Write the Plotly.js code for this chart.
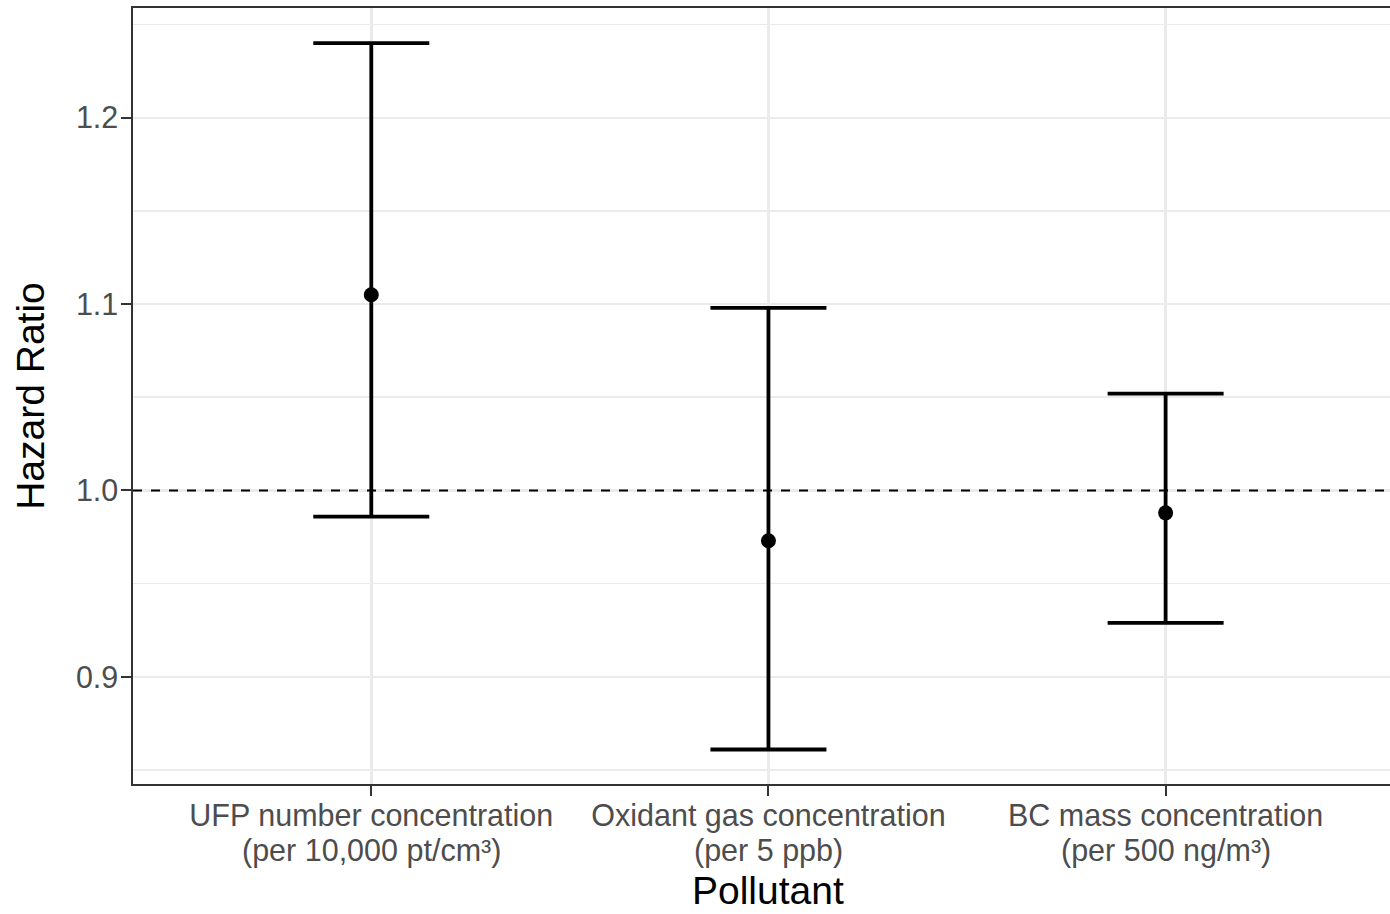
<!DOCTYPE html>
<html>
<head>
<meta charset="utf-8">
<script src="https://cdn.plot.ly/plotly-3.0.1.min.js"></script>
<style>html,body{margin:0;padding:0;background:#fff;}#chart{width:1390px;height:914px;}</style>
</head>
<body>
<div id="chart"></div>
<script>
const categoryNames = ["UFP number concentration", "Oxidant gas concentration", "BC mass concentration"];
const categoryUnits = ["(per 10,000 pt/cm³)", "(per 5 ppb)", "(per 500 ng/m³)"];
const hazardRatio = [1.105, 0.973, 0.988];
const lowerCI = [0.986, 0.861, 0.929];
const upperCI = [1.240, 1.098, 1.052];
const yTickVals = [0.9, 1.0, 1.1, 1.2];
const yTickText = ["0.9", "1.0", "1.1", "1.2"];

const xIdx = categoryNames.map((c, i) => i);
const trace = {
  type: "scatter",
  mode: "markers",
  x: xIdx,
  y: hazardRatio,
  marker: {color: "#000000", size: 15},
  error_y: {
    type: "data",
    symmetric: false,
    array: upperCI.map((u, i) => u - hazardRatio[i]),
    arrayminus: lowerCI.map((l, i) => hazardRatio[i] - l),
    color: "#000000",
    thickness: 3.8,
    width: 58
  },
  hoverinfo: "x+y",
  showlegend: false
};

const font = "'Liberation Sans', Arial, Helvetica, sans-serif";
const plotH = 914 - 8 - 130;
const unitAnnotations = categoryUnits.map((u, i) => ({
  text: u, xref: "x", x: i, yref: "paper", y: -(851 - 784) / plotH,
  yanchor: "middle", showarrow: false,
  font: {size: 30.5, color: "#4D4D4D", family: font}
}));

const layout = {
  width: 1390, height: 914,
  margin: {l: 133, r: 0, t: 8, b: 130},
  paper_bgcolor: "#ffffff",
  plot_bgcolor: "#ffffff",
  font: {family: font, color: "#000000"},
  xaxis: {
    range: [-0.6, 2.565],
    tickvals: xIdx,
    ticktext: categoryNames,
    tickfont: {size: 30.5, color: "#4D4D4D", family: font},
    ticklabelstandoff: -6,
    showgrid: true, gridcolor: "#EBEBEB", gridwidth: 2.5,
    zeroline: false,
    showline: true, linecolor: "#333333", linewidth: 1.6, mirror: true,
    ticks: "outside", ticklen: 10, tickwidth: 2, tickcolor: "#333333",
    automargin: false
  },
  yaxis: {
    range: [0.8425, 1.2589],
    tickvals: yTickVals,
    ticktext: yTickText,
    tickfont: {size: 30.5, color: "#4D4D4D", family: font},
    ticklabelstandoff: -3,
    showgrid: true, gridcolor: "#EBEBEB", gridwidth: 2.5,
    minor: {tick0: 0.05, dtick: 0.1, showgrid: true, gridcolor: "#EBEBEB", gridwidth: 1.6, ticks: ""},
    zeroline: false,
    showline: true, linecolor: "#333333", linewidth: 1.6, mirror: false,
    ticks: "outside", ticklen: 10, tickwidth: 2, tickcolor: "#333333",
    title: {text: "Hazard Ratio", font: {size: 39, color: "#000000", family: font}},
    automargin: false
  },
  annotations: unitAnnotations.concat([{
    text: "Pollutant", xref: "x", x: 1, yref: "paper", y: -(890 - 784) / plotH,
    yanchor: "middle", showarrow: false,
    font: {size: 39, color: "#000000", family: font}
  }]),
  shapes: [{
    type: "line", xref: "paper", x0: 0, x1: 1, yref: "y", y0: 1.0, y1: 1.0,
    line: {color: "#000000", width: 2, dash: "9px,9px"},
    layer: "above"
  }]
};

Plotly.newPlot("chart", [trace], layout, {displayModeBar: false, staticPlot: true});
</script>
</body>
</html>
